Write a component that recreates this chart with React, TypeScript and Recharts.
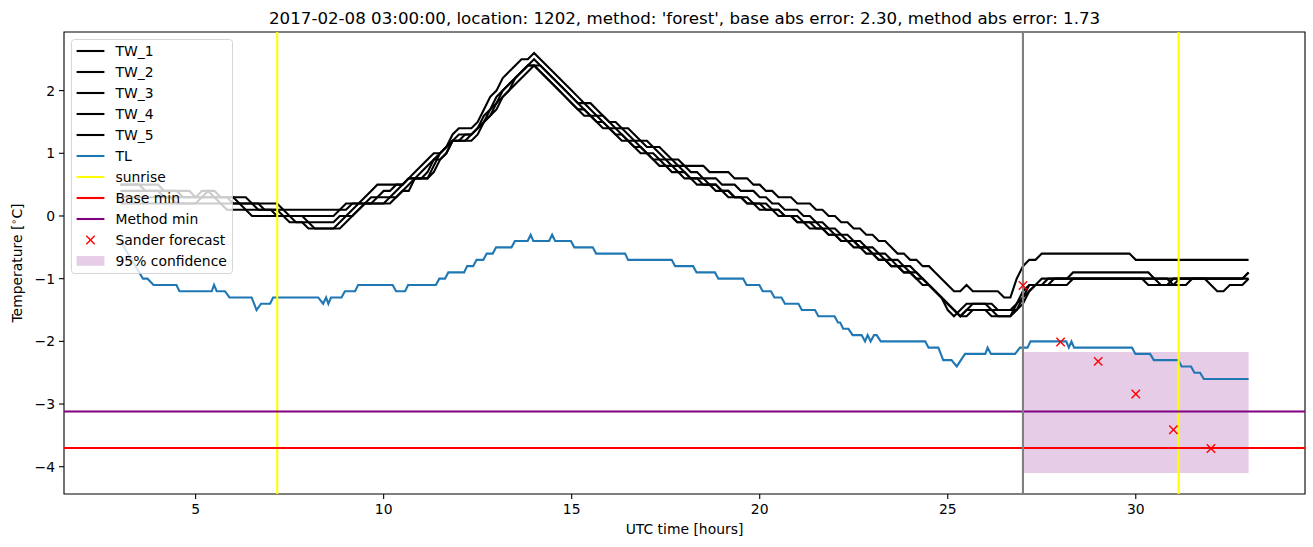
import React from "react";
import {
  ComposedChart,
  Line,
  XAxis,
  YAxis,
  ReferenceLine,
  ReferenceArea,
  Legend,
} from "recharts";

const FONT = '"DejaVu Sans", Verdana, sans-serif';
const TICK_PX = 13.9;

// Water temperature sensors, tenths of a degree, one reading every 10 min
// from 03:00 (t = 3) to 33:00 (t = 33).
const TW_START = 3;
const TW_STEP = 1 / 6;

const TW_1 = [
  5, 5, 5, 5, 5, 5,
  5, 4, 4, 4, 4, 4,
  3, 3, 4, 4, 3, 3,
  3, 3, 3, 2, 2, 2,
  2, 2, 1, 1, 1, 1,
  1, 1, 1, 1, 1, 1,
  2, 2, 2, 3, 4, 5,
  5, 5, 5, 5, 6, 7,
  8, 9, 10, 10, 11, 13,
  14, 14, 14, 15, 17, 19,
  20, 22, 23, 24, 25, 25,
  26, 25, 24, 23, 22, 21,
  20, 19, 18, 18, 17, 16,
  15, 15, 14, 14, 13, 12,
  12, 11, 11, 10, 9, 9,
  8, 8, 8, 8, 7, 7,
  7, 7, 6, 6, 6, 5,
  5, 4, 4, 3, 3, 3,
  2, 2, 2, 1, 1, 0,
  0, -1, -1, -2, -2, -3,
  -3, -4, -4, -5, -6, -6,
  -7, -7, -8, -8, -9, -10,
  -11, -12, -12, -11, -12, -12,
  -12, -12, -12, -13, -13, -10,
  -8, -7, -7, -6, -6, -6,
  -6, -6, -6, -6, -6, -6,
  -6, -6, -6, -6, -6, -6,
  -7, -7, -7, -7, -7, -7,
  -7, -7, -7, -7, -7, -7,
  -7, -7, -7, -7, -7, -7,
  -7,
];

const TW_2 = [
  5, 5, 5, 5, 4, 4,
  4, 4, 4, 4, 3, 3,
  3, 3, 3, 3, 3, 3,
  2, 2, 2, 2, 1, 1,
  1, 1, 1, 0, 0, 0,
  0, 0, 0, 0, 0, 1,
  1, 2, 2, 2, 3, 3,
  4, 4, 5, 5, 6, 6,
  7, 8, 9, 10, 11, 12,
  12, 13, 13, 14, 15, 16,
  18, 19, 20, 22, 23, 24,
  24, 24, 23, 22, 21, 20,
  19, 18, 18, 17, 16, 16,
  15, 14, 14, 13, 12, 12,
  11, 11, 10, 9, 9, 8,
  8, 7, 7, 6, 6, 6,
  5, 5, 5, 4, 4, 4,
  3, 3, 2, 2, 1, 1,
  1, 0, 0, -1, -1, -2,
  -2, -3, -3, -4, -4, -5,
  -5, -6, -6, -7, -7, -8,
  -8, -9, -10, -11, -12, -13,
  -14, -15, -16, -15, -14, -14,
  -14, -14, -15, -15, -15, -14,
  -12, -11, -11, -10, -10, -10,
  -10, -10, -10, -10, -10, -10,
  -10, -10, -10, -10, -10, -10,
  -10, -10, -10, -10, -10, -10,
  -10, -10, -10, -10, -10, -10,
  -10, -10, -10, -10, -10, -10,
  -9,
];

const TW_3 = [
  4, 4, 4, 4, 4, 4,
  4, 3, 3, 3, 3, 3,
  3, 4, 4, 3, 3, 3,
  3, 2, 2, 2, 2, 1,
  1, 0, 0, 0, 0, 0,
  -1, -1, -1, -1, -1, 0,
  0, 1, 2, 2, 2, 3,
  3, 3, 4, 5, 6, 6,
  6, 6, 8, 10, 11, 12,
  12, 12, 13, 14, 15, 17,
  19, 20, 21, 22, 23, 24,
  25, 24, 23, 22, 21, 20,
  19, 18, 17, 16, 16, 15,
  14, 14, 13, 12, 12, 11,
  10, 10, 9, 9, 8, 8,
  7, 6, 6, 6, 5, 5,
  4, 4, 3, 3, 3, 2,
  2, 2, 1, 1, 0, 0,
  0, -1, -1, -1, -2, -2,
  -3, -3, -4, -4, -5, -5,
  -6, -6, -7, -7, -8, -8,
  -9, -9, -10, -11, -12, -13,
  -14, -15, -16, -16, -15, -15,
  -15, -16, -16, -16, -16, -14,
  -13, -11, -11, -11, -10, -10,
  -10, -10, -9, -9, -9, -9,
  -9, -9, -9, -9, -9, -9,
  -9, -9, -9, -10, -11, -11,
  -11, -10, -10, -10, -10, -10,
  -10, -10, -10, -10, -10, -10,
  -9,
];

const TW_4 = [
  3, 3, 3, 3, 3, 3,
  3, 3, 3, 2, 2, 2,
  2, 3, 3, 3, 2, 2,
  2, 2, 1, 1, 1, 1,
  1, 1, 0, 0, -1, -1,
  -1, -2, -2, -2, -2, -2,
  -1, 0, 1, 2, 2, 2,
  2, 2, 3, 4, 5, 6,
  6, 7, 9, 9, 10, 12,
  13, 13, 13, 14, 16, 17,
  18, 20, 21, 22, 23, 24,
  24, 23, 22, 21, 20, 19,
  18, 17, 16, 16, 15, 14,
  14, 13, 12, 12, 11, 11,
  10, 9, 9, 8, 8, 7,
  7, 6, 6, 5, 5, 5,
  4, 4, 3, 3, 2, 2,
  2, 1, 1, 1, 0, 0,
  -1, -1, -1, -2, -2, -3,
  -3, -4, -4, -4, -5, -5,
  -6, -7, -7, -8, -8, -9,
  -9, -10, -10, -11, -12, -13,
  -14, -15, -16, -15, -15, -15,
  -15, -15, -16, -16, -16, -15,
  -13, -12, -11, -11, -11, -10,
  -10, -10, -10, -10, -10, -10,
  -10, -10, -10, -10, -10, -10,
  -10, -10, -11, -11, -11, -11,
  -10, -10, -10, -10, -10, -10,
  -11, -12, -12, -11, -11, -11,
  -10,
];

const TW_5 = [
  2, 2, 2, 2, 2, 2,
  2, 2, 2, 2, 2, 2,
  2, 2, 2, 2, 2, 1,
  1, 1, 1, 0, 0, 0,
  0, 0, 0, -1, -1, -1,
  -2, -2, -2, -2, -2, -1,
  0, 0, 1, 2, 2, 2,
  2, 3, 3, 4, 4, 6,
  6, 6, 7, 9, 10, 12,
  12, 12, 12, 13, 15, 16,
  17, 19, 20, 21, 22, 23,
  24, 23, 22, 21, 20, 19,
  18, 17, 17, 16, 15, 15,
  14, 13, 13, 12, 11, 10,
  10, 9, 8, 8, 7, 7,
  6, 6, 5, 5, 5, 4,
  4, 3, 3, 3, 2, 2,
  1, 1, 1, 0, 0, 0,
  -1, -1, -2, -2, -2, -3,
  -3, -4, -4, -5, -5, -6,
  -6, -7, -7, -8, -8, -9,
  -9, -10, -11, -11, -12, -13,
  -15, -16, -15, -14, -14, -14,
  -14, -15, -15, -15, -15, -15,
  -14, -12, -11, -11, -11, -11,
  -11, -11, -10, -10, -10, -10,
  -10, -10, -10, -10, -10, -10,
  -10, -10, -10, -10, -10, -10,
  -11, -11, -11, -10, -10, -10,
  -10, -10, -10, -10, -10, -10,
  -10,
];

// Air temperature TL: corners of the plotted line, [hour, °C]
const TL: [number, number][] = [
  [3.0, -0.4], [3.2, -0.6], [3.4, -0.8], [3.6, -1.0], [3.72, -1.0], [3.88, -1.1],
  [4.49, -1.1], [4.57, -1.2],
  [5.43, -1.2], [5.49, -1.1], [5.56, -1.2],
  [5.78, -1.2], [5.9, -1.3],
  [6.49, -1.3], [6.62, -1.5], [6.74, -1.4], [6.98, -1.4], [7.06, -1.3],
  [8.26, -1.3], [8.39, -1.4], [8.47, -1.3], [8.53, -1.4], [8.6, -1.3],
  [8.88, -1.3], [8.97, -1.2], [9.24, -1.2], [9.32, -1.1],
  [10.24, -1.1], [10.33, -1.2], [10.57, -1.2], [10.65, -1.1],
  [11.39, -1.1], [11.48, -1.0], [11.63, -1.0], [11.72, -0.9],
  [12.14, -0.9], [12.22, -0.8], [12.38, -0.8], [12.47, -0.7],
  [12.65, -0.7], [12.74, -0.6], [12.9, -0.6], [12.99, -0.5],
  [13.4, -0.5], [13.49, -0.4], [13.83, -0.4], [13.91, -0.3], [13.98, -0.4],
  [14.4, -0.4], [14.48, -0.3], [14.56, -0.4],
  [14.98, -0.4], [15.07, -0.5], [15.56, -0.5], [15.65, -0.6],
  [16.42, -0.6], [16.5, -0.7], [17.66, -0.7], [17.75, -0.8],
  [18.23, -0.8], [18.32, -0.9], [18.81, -0.9], [18.9, -1.0],
  [19.56, -1.0], [19.65, -1.1], [19.99, -1.1], [20.08, -1.2],
  [20.3, -1.2], [20.39, -1.3], [20.58, -1.3], [20.67, -1.4],
  [21.03, -1.4], [21.12, -1.5], [21.47, -1.5], [21.56, -1.6],
  [21.99, -1.6], [22.08, -1.7], [22.14, -1.7], [22.22, -1.8], [22.36, -1.8], [22.47, -1.9],
  [22.71, -1.9], [22.8, -2.0], [22.87, -1.9], [22.95, -2.0], [23.04, -1.9], [23.11, -1.9], [23.22, -2.0],
  [24.4, -2.0], [24.49, -2.1], [24.75, -2.1], [24.88, -2.3], [25.1, -2.3], [25.24, -2.4], [25.46, -2.2],
  [26.0, -2.2], [26.06, -2.1], [26.15, -2.2], [26.79, -2.2], [26.92, -2.1], [27.12, -2.1], [27.2, -2.0],
  [28.15, -2.0], [28.22, -2.1], [28.29, -2.0], [28.36, -2.1],
  [29.9, -2.1], [29.99, -2.2], [30.38, -2.2], [30.48, -2.3],
  [31.13, -2.3], [31.22, -2.4], [31.47, -2.4], [31.56, -2.5], [31.71, -2.5], [31.81, -2.6],
  [33.0, -2.6],
];

const FORECAST_T = [27, 28, 29, 30, 31, 32];
const FORECAST_V = [-1.11, -2.01, -2.32, -2.84, -3.41, -3.71];

const SUNRISE = [7.17, 31.14];
const FORECAST_AT = 27;
const BASE_MIN = -3.7;
const METHOD_MIN = -3.12;
const CONF_T = [27, 33];
const CONF_V = [-4.1, -2.17];

const X_DOMAIN: [number, number] = [1.5, 34.5];
const Y_DOMAIN: [number, number] = [-4.435, 2.935];
const X_TICKS = [5, 10, 15, 20, 25, 30];
const Y_TICKS = [-4, -3, -2, -1, 0, 1, 2];

const TITLE =
  "2017-02-08 03:00:00, location: 1202, method: 'forest', base abs error: 2.30, method abs error: 1.73";

const TW_KEYS = ["tw1", "tw2", "tw3", "tw4", "tw5"];
const TW_SERIES = [TW_1, TW_2, TW_3, TW_4, TW_5];

const twRows = TW_1.map((_, i) => {
  const row: Record<string, number> = { t: TW_START + i * TW_STEP };
  TW_SERIES.forEach((s, k) => {
    row[TW_KEYS[k]] = s[i] / 10;
  });
  return row;
});
const tlRows = TL.map(([t, v]) => ({ t, tl: v }));
const forecastRows = FORECAST_T.map((t, i) => ({ t, fc: FORECAST_V[i] }));

const LEGEND_ITEMS = [
  { label: "TW_1", kind: "line", color: "#000000" },
  { label: "TW_2", kind: "line", color: "#000000" },
  { label: "TW_3", kind: "line", color: "#000000" },
  { label: "TW_4", kind: "line", color: "#000000" },
  { label: "TW_5", kind: "line", color: "#000000" },
  { label: "TL", kind: "line", color: "#1f77b4" },
  { label: "sunrise", kind: "line", color: "#ffff00" },
  { label: "Base min", kind: "line", color: "#ff0000" },
  { label: "Method min", kind: "line", color: "#800080" },
  { label: "Sander forecast", kind: "cross", color: "#ff0000" },
  { label: "95% confidence", kind: "patch", color: "#800080" },
];

const minus = (v: number) => String(v).replace("-", "\u2212");

function Cross({ cx, cy, r, color }: { cx: number; cy: number; r: number; color: string }) {
  return (
    <g>
      <line x1={cx - r} y1={cy - r} x2={cx + r} y2={cy + r} stroke={color} strokeWidth={1.4} />
      <line x1={cx - r} y1={cy + r} x2={cx + r} y2={cy - r} stroke={color} strokeWidth={1.4} />
    </g>
  );
}

function renderForecastDot(props: any) {
  const { cx, cy, index } = props;
  if (cx == null || cy == null) return <g key={`fx-${index}`} />;
  return (
    <g key={`fx-${index}`}>
      <Cross cx={cx} cy={cy} r={4.2} color="#ff0000" />
    </g>
  );
}

function LegendBox() {
  return (
    <svg width={166} height={240} style={{ display: "block" }}>
      <rect
        x={1.5}
        y={1.5}
        width={161}
        height={234}
        rx={3}
        fill="#ffffff"
        fillOpacity={0.8}
        stroke="#cccccc"
        strokeOpacity={0.8}
      />
      {LEGEND_ITEMS.map((it, k) => {
        const cy = 13 + 21 * k;
        return (
          <g key={it.label}>
            {it.kind === "line" && (
              <line x1={6.6} x2={34.4} y1={cy} y2={cy} stroke={it.color} strokeWidth={2.1} />
            )}
            {it.kind === "cross" && <Cross cx={20.5} cy={cy} r={4.2} color={it.color} />}
            {it.kind === "patch" && (
              <rect x={6.6} y={cy - 4.9} width={27.8} height={9.7} fill={it.color} fillOpacity={0.2} />
            )}
            <text
              x={45.5}
              y={cy}
              dominantBaseline="central"
              fontFamily={FONT}
              fontSize={TICK_PX}
              fill="#000"
            >
              {it.label}
            </text>
          </g>
        );
      })}
    </svg>
  );
}

function YLabel() {
  return (
    <text
      x={22}
      y={263}
      transform="rotate(-90 22 263)"
      textAnchor="middle"
      fontFamily={FONT}
      fontSize={TICK_PX}
      fill="#000"
    >
      Temperature [
      <tspan fontSize={9.7} dy={-5}>
        {"\u2218"}
      </tspan>
      <tspan dy={5}>C]</tspan>
    </text>
  );
}

export default function App() {
  const tickStyle = { fill: "#000", fontSize: TICK_PX, fontFamily: FONT };
  return (
    <div
      style={{
        position: "fixed",
        left: 0,
        top: 0,
        width: 1313,
        height: 547,
        background: "#fff",
      }}
    >
      <svg
        width={1313}
        height={32}
        style={{ position: "absolute", left: 0, top: 0, pointerEvents: "none" }}
      >
        <text x={684.6} y={24} textAnchor="middle" fontFamily={FONT} fontSize={16.67} fill="#000">
          {TITLE}
        </text>
      </svg>
      <ComposedChart
        width={1313}
        height={547}
        data={twRows}
        margin={{ top: 32, right: 8, bottom: 0, left: 0 }}
      >
        <XAxis
          type="number"
          dataKey="t"
          domain={X_DOMAIN}
          ticks={X_TICKS}
          allowDataOverflow
          height={53}
          tickSize={5}
          tickMargin={5}
          tick={tickStyle}
          tickLine={{ stroke: "#000", strokeWidth: 1.1 }}
          axisLine={false}
          label={{
            value: "UTC time [hours]",
            position: "insideBottom",
            offset: 13,
            fill: "#000",
            fontSize: TICK_PX,
            fontFamily: FONT,
          }}
        />
        <YAxis
          type="number"
          domain={Y_DOMAIN}
          ticks={Y_TICKS}
          allowDataOverflow
          width={64}
          tickSize={5}
          tickMargin={4}
          tick={tickStyle}
          tickFormatter={minus}
          tickLine={{ stroke: "#000", strokeWidth: 1.1 }}
          axisLine={false}
          label={{ content: () => <YLabel /> }}
        />
        <ReferenceArea
          x1={CONF_T[0]}
          x2={CONF_T[1]}
          y1={CONF_V[0]}
          y2={CONF_V[1]}
          fill="#800080"
          fillOpacity={0.2}
          stroke="none"
        />
        {TW_KEYS.map((k) => (
          <Line
            key={k}
            type="linear"
            dataKey={k}
            stroke="#000000"
            strokeWidth={2.1}
            dot={false}
            activeDot={false}
            isAnimationActive={false}
          />
        ))}
        <Line
          data={tlRows}
          type="linear"
          dataKey="tl"
          stroke="#1f77b4"
          strokeWidth={2.1}
          dot={false}
          activeDot={false}
          isAnimationActive={false}
        />
        {SUNRISE.map((s) => (
          <ReferenceLine key={s} x={s} stroke="#ffff00" strokeWidth={2.1} />
        ))}
        <ReferenceLine y={BASE_MIN} stroke="#ff0000" strokeWidth={2.1} />
        <ReferenceLine y={METHOD_MIN} stroke="#800080" strokeWidth={2.1} />
        <ReferenceLine x={FORECAST_AT} stroke="#808080" strokeWidth={2.1} />
        <Line
          data={forecastRows}
          type="linear"
          dataKey="fc"
          stroke="none"
          dot={renderForecastDot}
          activeDot={false}
          isAnimationActive={false}
        />
        <ReferenceArea
          x1={X_DOMAIN[0]}
          x2={X_DOMAIN[1]}
          y1={Y_DOMAIN[0]}
          y2={Y_DOMAIN[1]}
          fill="none"
          stroke="#000"
          strokeWidth={1.1}
        />
        <Legend
          layout="vertical"
          align="center"
          verticalAlign="middle"
          content={() => <LegendBox />}
          wrapperStyle={{ left: 70, top: 38, width: 166, height: 240 }}
        />
      </ComposedChart>
    </div>
  );
}
